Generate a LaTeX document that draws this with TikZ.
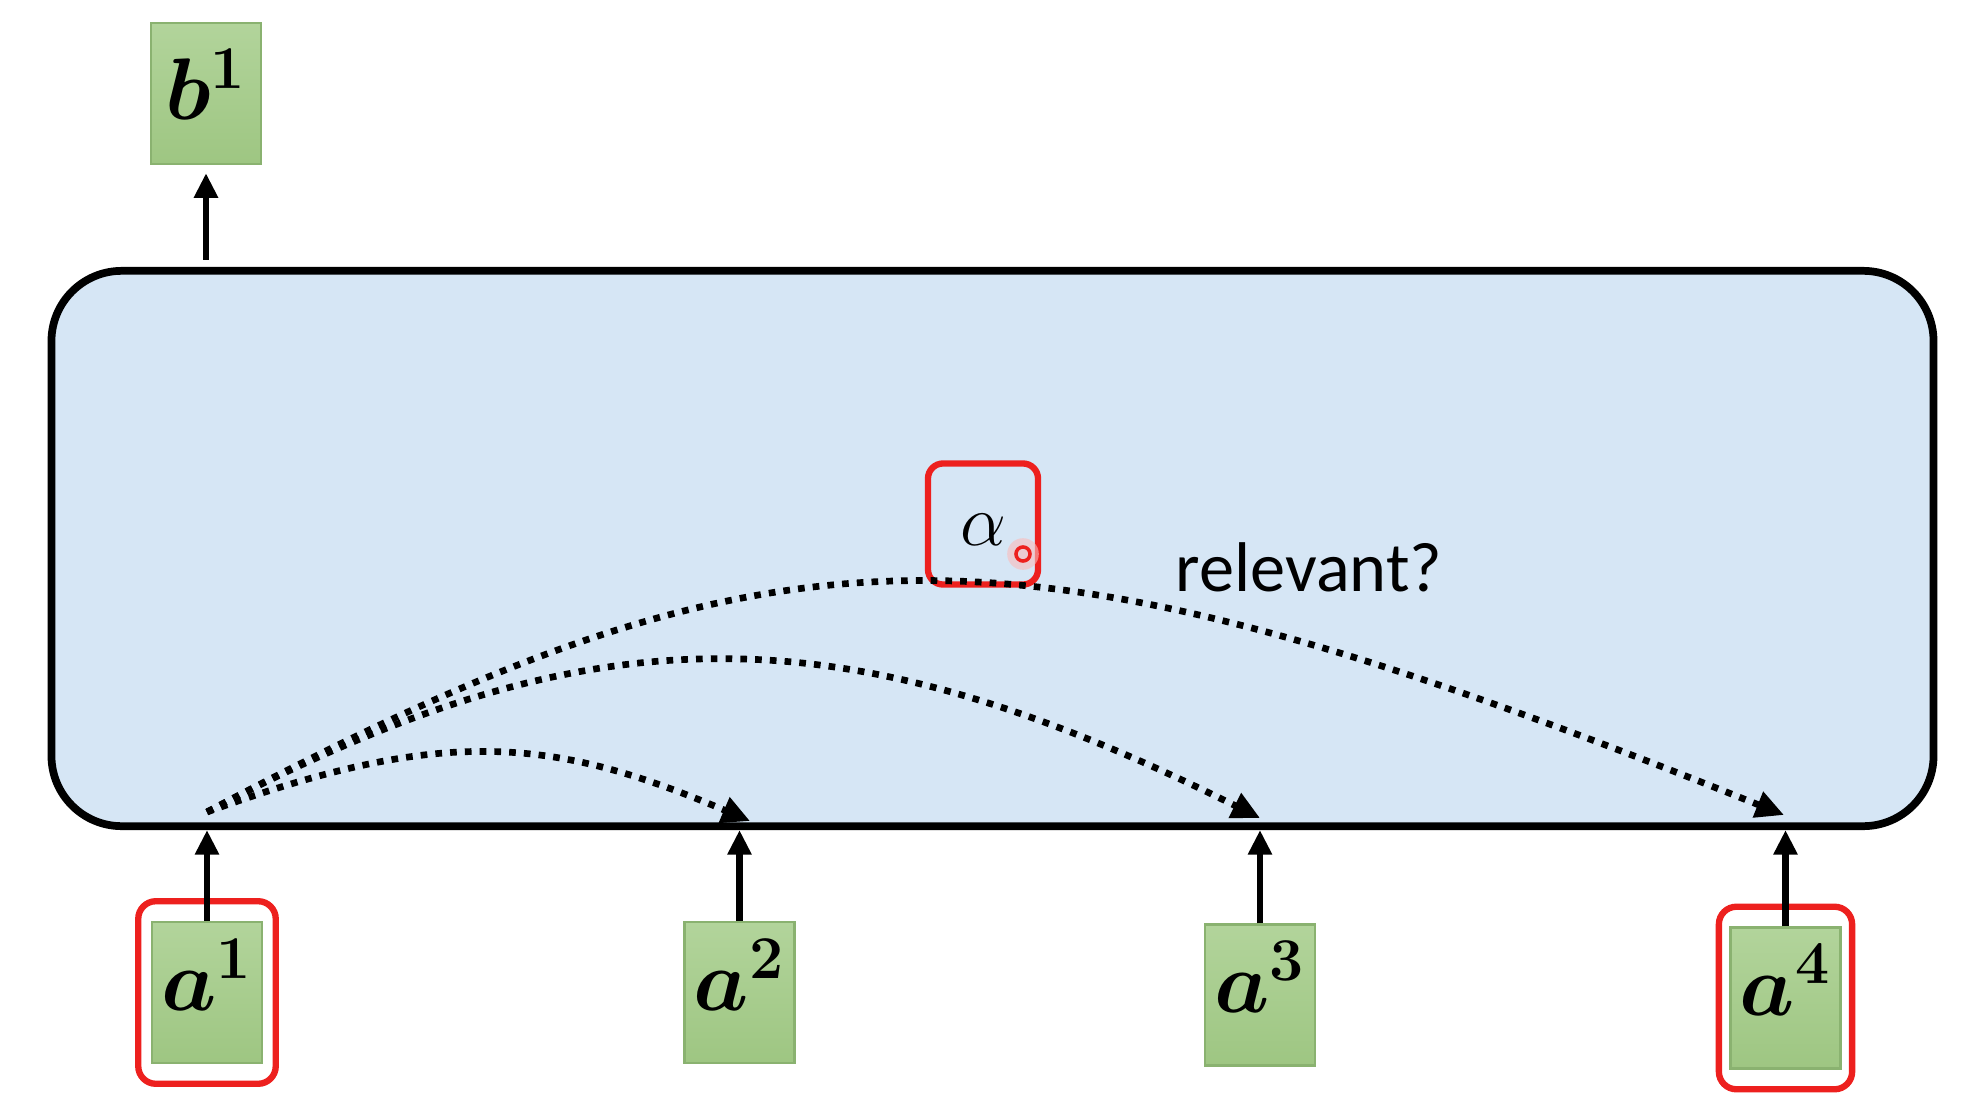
\documentclass[tikz,border=0pt]{standalone}
\usepackage{amsmath}
\usepackage{bm}
\usepackage{fontspec}
\newfontfamily\calibri{Carlito}
\usetikzlibrary{arrows.meta,fit}
\definecolor{boxblue}{RGB}{214,230,245}
\definecolor{vecgreen}{RGB}{158,198,130}
\definecolor{vecgreentop}{RGB}{178,212,155}
\definecolor{vecedge}{RGB}{138,178,112}
\definecolor{hlred}{RGB}{237,32,30}
\tikzset{
  vec/.style={rectangle,draw=vecedge,line width=0.6pt,top color=vecgreentop,bottom color=vecgreen,minimum width=1.1cm,minimum height=1.41cm,inner sep=0pt,font=\fontsize{23}{27}\selectfont,text height=20pt,text depth=10pt},
  hl/.style={draw=hlred,line width=1.8pt,rounded corners=5pt},
  inarrow/.style={line width=1.9pt,-{Triangle[length=7pt,width=6.5pt]}},
  attn/.style={line width=1.9pt,dash pattern=on 1.9pt off 2.3pt,-{Triangle[length=8pt,width=7.5pt]}}
}

\begin{document}
\begin{tikzpicture}[x=0.01cm,y=-0.01cm]
\useasboundingbox (0,0) rectangle (1966,1112);
% self-attention block
\node[draw,line width=2.2pt,fill=boxblue,rounded corners=20pt,minimum width=18.81cm,minimum height=5.55cm] (main) at (992.5,548.5) {};
% inputs and output
\node[vec,text height=18pt,text depth=3pt] (b1) at (206,93.5) {$\bm{b}^{\bm{1}}$};
\foreach \i/\x/\y in {1/207/992.5,2/739.5/992.5,3/1260/995,4/1785.5/998} {\node[vec] (a\i) at (\x,\y) {$\bm{a}^{\bm{\i}}$};}
\node[hl,fit=(a1),inner xsep=3.6pt,inner ysep=5.6pt] (a1hl) {};
\node[hl,fit=(a4),inner xsep=3pt,inner ysep=5.6pt] (a4hl) {};
\foreach \i in {1,...,4} {\draw[inarrow] (a\i.north) -- (a\i.north |- main.south);}
\draw[inarrow,shorten <=2pt,shorten >=2.3pt] (b1.south |- main.north) -- (b1.south);
% attention score
\node[hl,rounded corners=4.3pt,minimum width=1.1cm,minimum height=1.21cm,font=\huge,text height=12.3pt,text depth=0pt] (alpha) at (983,524) {$\alpha$};
\coordinate (dot) at (1023,554);
\fill[hlred!30,opacity=0.6] (dot) circle (4.5pt);
\draw[hlred,line width=1pt] (dot) circle (2pt);
% a1 to the others
\coordinate (s) at (207,812);
\coordinate (t2) at (750,821);
\coordinate (t3) at (1260,818);
\coordinate (t4) at (1784,815);
\draw[attn] (s) .. controls (441,727) and (550,736) .. (t2);
\draw[attn] (s) .. controls (594,607) and (842,610) .. (t3);
\draw[attn] (s) .. controls (790,503) and (1012,506) .. (t4);
\node[font=\calibri\fontsize{20}{24}\selectfont] (rel) at (1309,567) {relevant?};
\end{tikzpicture}
\end{document}
